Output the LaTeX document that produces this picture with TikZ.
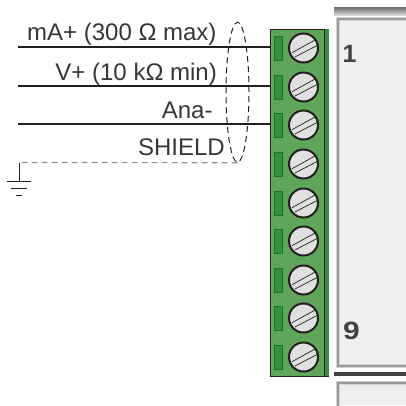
\documentclass[tikz,border=0pt]{standalone}
\usetikzlibrary{shapes.geometric}
\usepackage{fontspec}
\setmainfont{Liberation Sans}
\definecolor{blockgreen}{HTML}{5FA55A}
\definecolor{stripgreen}{HTML}{38903F}
\definecolor{screwgray}{HTML}{E0E0E0}
\definecolor{panelfill}{HTML}{EFEFEF}
\definecolor{ink}{HTML}{231F20}
\tikzset{
  x=1pt,y=-1pt,
  wire/.style={ink,line width=2pt},
  shieldline/.style={gray!85,line width=1.2pt,dash pattern=on 6pt off 4pt},
  lbl/.style={anchor=base east,inner sep=0pt,text=ink!90,font=\fontsize{24}{24}\selectfont},
  slotbox/.style={draw=ink!60!green,fill=stripgreen,line width=.8pt,minimum width=8pt,minimum height=24pt,inner sep=0pt},
  screwhead/.style={circle,draw=ink,fill=screwgray,line width=2pt,minimum size=29pt,inner sep=0pt},
  panelnum/.style={text=ink!85,inner sep=0pt,font=\bfseries\fontsize{25}{25}\selectfont},
  panelhalo/.style={gray!35,line width=3.6pt},
  panelline/.style={gray!80,line width=1.6pt},
}
\newcommand{\termrow}[2]{%
  \node[slotbox] (slot#1) at (278.7,#2.5) {};
  \node[screwhead] (screw#1) at (303.5,#2) {};
  \draw[ink,line width=.7pt] (292,#2+4.7) -- (315,#2-8) (295,#2+9) -- (318,#2-3);
}
\begin{document}
\begin{tikzpicture}
\useasboundingbox (0,0) rectangle (406,405);
% panels
\shade[top color=gray!85!black,bottom color=gray!30] (334,7) rectangle (406,15);
\fill[panelfill] (338,19) rectangle (406,366);
\draw[panelhalo] (407,19) -- (338,19) -- (338,366) -- (407,366);
\draw[panelline] (407,19) -- (338,19) -- (338,366) -- (407,366);
\fill[ink!85] (334,372) rectangle (406,376);
\fill[panelfill] (338,383) rectangle (406,405);
\draw[panelhalo] (338,407) -- (338,383) -- (407,383);
\draw[panelline] (338,407) -- (338,383) -- (407,383);
\node[panelnum] (one) at (349.5,54) {1};
\node[panelnum,xscale=1.2] (nine) at (351.5,330.5) {9};
% terminal block
\node[draw=ink,fill=blockgreen,line width=1pt,minimum width=58pt,minimum height=347pt,inner sep=0pt] (block) at (299.5,202.5) {};
\fill[stripgreen] (324.5,29) rectangle (328.5,376);
\draw[ink,line width=.6pt] (324.5,29) -- (324.5,376);
\termrow{1}{48}
\termrow{2}{87}
\termrow{3}{125}
\termrow{4}{164}
\termrow{5}{203}
\termrow{6}{241}
\termrow{7}{280}
\termrow{8}{318}
\termrow{9}{357}
% wires
\coordinate (w1) at (18,47.3);
\coordinate (w2) at (18,86.3);
\coordinate (w3) at (18,124);
\coordinate (t1) at (271,47.3);
\coordinate (t2) at (271,86.3);
\coordinate (t3) at (271,124);
\draw[wire] (w1) -- (t1);
\draw[wire] (w2) -- (t2);
\draw[wire] (w3) -- (t3);
\node[lbl] (la) at (216.7,40.7) {mA+ (300 Ω max)};
\node[lbl] (lb) at (217,80) {V+ (10 kΩ min)};
\node[lbl] (lc) at (212.7,118) {Ana-};
\node[lbl] (ld) at (225,155.7) {SHIELD};
% shield
\node[draw=ink,dash pattern=on 6pt off 4pt,line width=1pt,ellipse,minimum width=23pt,minimum height=140pt,inner sep=0pt] (shield) at (237.5,92.2) {};
\coordinate (g) at (19,162.5);
\draw[shieldline] (shield.south) -- (g);
\coordinate (gtop) at (19,163);
\coordinate (gbar) at (19,181.5);
\draw[ink,line width=1pt] (gtop) -- (gbar);
\draw[ink,line width=1.2pt] (7,181.5) -- (31,181.5) (11,188.5) -- (27,188.5) (16,195.5) -- (22,195.5);
\end{tikzpicture}
\end{document}
